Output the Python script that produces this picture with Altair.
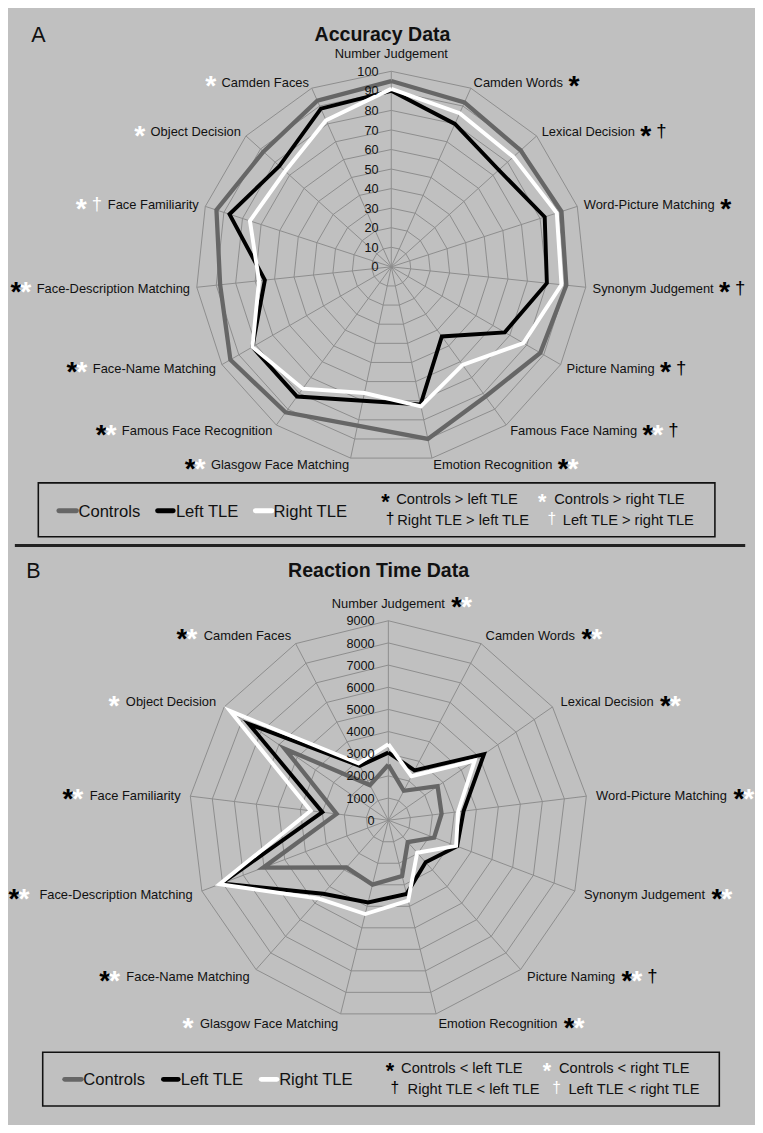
import math
import altair as alt
import pandas as pd

# ---------------- data ----------------
acc_axes = ["Number Judgement", "Camden Words", "Lexical Decision", "Word-Picture Matching",
            "Synonym Judgement", "Picture Naming", "Famous Face Naming", "Emotion Recognition",
            "Glasgow Face Matching", "Famous Face Recognition", "Face-Name Matching",
            "Face-Description Matching", "Face Familiarity", "Object Decision", "Camden Faces"]
acc_controls = [95, 92, 89, 91.5, 90, 88, 82, 90, 83, 92, 95, 88, 94, 88, 93]
acc_left = [90, 80, 74, 82.5, 80, 67, 44, 72, 70, 82, 82, 65, 87, 77, 88.5]
acc_right = [91, 86, 84, 89, 87.5, 78, 62, 73, 66, 77, 82, 68, 76, 73, 82]
acc_marks = ["", "k*", "k* k†", "k*", "k* k†", "k* k†", "k*w* k†", "k*w*", "k*w*", "k*w*",
             "k*w*", "k*w*", "w* w†", "w*", "w*"]
acc_ticks = [0, 10, 20, 30, 40, 50, 60, 70, 80, 90, 100]

rt_axes = ["Number Judgement", "Camden Words", "Lexical Decision", "Word-Picture Matching",
           "Synonym Judgement", "Picture Naming", "Emotion Recognition", "Glasgow Face Matching",
           "Face-Name Matching", "Face-Description  Matching", "Face Familiarity",
           "Object Decision", "Camden Faces"]
rt_controls = [2500, 1500, 2700, 2420, 2210, 1320, 2590, 2990, 2850, 6040, 2350, 5680, 1790]
rt_left = [3050, 2545, 5245, 3420, 3320, 2540, 3430, 3820, 4435, 8050, 3000, 7635, 2770]
rt_right = [3430, 2240, 4735, 3170, 3270, 1960, 3740, 4360, 4725, 8150, 3530, 8675, 2900]
rt_marks = ["k*w*", "k*w*", "k*w*", "k*w*", "k*w*", "k*w* k†", "k*w*", "w*", "k*w*", "k*w*",
            "k*w*", "w*", "k*w*"]
rt_ticks = [0, 1000, 2000, 3000, 4000, 5000, 6000, 7000, 8000, 9000]

series_names = ["Controls", "Left TLE", "Right TLE"]
acc_legend_sig = [["Controls > left TLE", "Controls > right TLE"],
                  ["Right TLE > left TLE", "Left TLE > right TLE"]]
rt_legend_sig = [["Controls < left TLE", "Controls < right TLE"],
                 ["Right TLE < left TLE", "Left TLE < right TLE"]]

# ---------------- style ----------------
FONT = "Liberation Sans"
INK = "#111111"
BG = "#c0c0c0"
GRID = "#8c8c8c"
SER_COL = ["#666666", "#000000", "#ffffff"]
SER_W = [4.4, 4.0, 4.0]
W = 747
ONE = pd.DataFrame({"a": [0]})
MARKCOL = {"k": "#000000", "w": "#ffffff"}
STAR_SIZE = 29
STAR_FAC = 0.47
DAG_SIZE = 19
DAG_FAC = 0.30

AW = {" ": 278, "-": 333, "<": 584, ">": 584,
      "A": 667, "B": 667, "C": 722, "D": 722, "E": 667, "F": 611, "G": 778, "H": 722, "I": 278,
      "J": 500, "K": 667, "L": 556, "M": 833, "N": 722, "O": 778, "P": 667, "Q": 778, "R": 722,
      "S": 667, "T": 611, "U": 722, "V": 667, "W": 944, "X": 667, "Y": 667, "Z": 611,
      "a": 556, "b": 556, "c": 500, "d": 556, "e": 556, "f": 278, "g": 556, "h": 556, "i": 222,
      "j": 222, "k": 500, "l": 222, "m": 833, "n": 556, "o": 556, "p": 556, "q": 556, "r": 333,
      "s": 500, "t": 278, "u": 556, "v": 500, "w": 722, "x": 500, "y": 500, "z": 500}


def tw(s, size):
    return sum(AW.get(c, 556) for c in s) * size / 1000.0


def parse_marks(s):
    s = s.replace(" ", "")
    return [(s[i], s[i + 1]) for i in range(0, len(s), 2)]


def stext(text, x, y, top, size, weight="normal", align="left", color=INK, kind="txt"):
    """static text; (x, y) = page position of the glyph centre line"""
    dy = {"txt": 0.36, "star": STAR_FAC, "dag": DAG_FAC}[kind] * size
    return alt.Chart(ONE).mark_text(
        text=text, font=FONT, fontSize=size, fontWeight=weight, align=align,
        baseline="alphabetic", dy=dy, color=color
    ).encode(x=alt.value(x - 8), y=alt.value(y - top))


def build_panel(cfg):
    axes = cfg["axes"]
    n = len(axes)
    cx, cy, k, top, H = cfg["cx"], cfg["cy"], cfg["k"], cfg["top"], cfg["H"]
    ticks = cfg["ticks"]
    rmax = ticks[-1]
    ang = [2 * math.pi * i / n for i in range(n)]
    xs = alt.Scale(domain=[(8 - cx) / k, (8 + W - cx) / k], nice=False, zero=False)
    ys = alt.Scale(domain=[(cy - top - H) / k, (cy - top) / k], nice=False, zero=False)

    def X(f):
        return alt.X(f, type="quantitative", scale=xs, axis=None)

    def Y(f):
        return alt.Y(f, type="quantitative", scale=ys, axis=None)

    layers = []
    # grid rings
    rows = []
    for t in ticks[1:]:
        for i in range(n + 1):
            a = ang[i % n]
            rows.append({"ring": t, "i": i, "x": t * math.sin(a), "y": t * math.cos(a)})
    layers.append(alt.Chart(pd.DataFrame(rows)).mark_line(color=GRID, strokeWidth=1).encode(
        x=X("x"), y=Y("y"), detail="ring:N", order="i:Q"))
    # spokes
    sp = pd.DataFrame({"x0": [0.0] * n, "y0": [0.0] * n,
                       "x1": [rmax * math.sin(a) for a in ang],
                       "y1": [rmax * math.cos(a) for a in ang]})
    layers.append(alt.Chart(sp).mark_rule(color=GRID, strokeWidth=1).encode(
        x=X("x0"), y=Y("y0"), x2=alt.X2("x1"), y2=alt.Y2("y1")))
    # series
    for s, vals, col, sw in zip(series_names, cfg["values"], SER_COL, SER_W):
        rows = []
        for i in range(n + 1):
            v = vals[i % n]
            a = ang[i % n]
            rows.append({"series": s, "i": i, "x": v * math.sin(a), "y": v * math.cos(a)})
        layers.append(alt.Chart(pd.DataFrame(rows)).mark_line(
            color=col, strokeWidth=sw, strokeJoin="miter", strokeMiterLimit=10).encode(
            x=X("x"), y=Y("y"), order="i:Q"))
    # tick labels
    tdf = pd.DataFrame({"v": ticks, "lab": [str(t) for t in ticks]})
    layers.append(alt.Chart(tdf).mark_text(
        align="right", baseline="alphabetic", dy=0.36 * 13, font=FONT, fontSize=13, color=INK).encode(
        x=alt.value(cx - 8 - cfg["tick_dx"]), y=Y("v"), text="lab:N"))
    # category labels + markers
    lab_rows = {"left": [], "right": [], "center": []}
    mk_rows = []
    LS = cfg["lab_size"]
    for i, name in enumerate(axes):
        a = ang[i]
        sa, ca = math.sin(a), math.cos(a)
        off = cfg["lab_off"]
        vx = cx + rmax * k * sa
        vy = cy - rmax * k * ca
        lx = vx + off * sa
        ly = vy - off * ca
        if abs(sa) < 0.05:
            align = "center"
            ly -= cfg["top_extra"] if ca > 0 else -cfg["top_extra"]
        elif sa > 0:
            align = "left"
        else:
            align = "right"
        lab_rows[align].append({"x": (lx - cx) / k, "y": (cy - ly) / k, "t": name})
        toks = parse_marks(cfg["marks"][i])
        if toks:
            w = tw(name, LS)
            gaps = []
            for j in range(1, len(toks)):
                gaps.append(10 if (toks[j][1] == "*" and toks[j - 1][1] == "*") else 16)
            if align == "right":
                start = lx - w
                pos = [start - cfg["mk_gap"]]
                for g in reversed(gaps):
                    pos.insert(0, pos[0] - g)
            else:
                end = lx + (w if align == "left" else w / 2)
                pos = [end + cfg["mk_gap"]]
                for g in gaps:
                    pos.append(pos[-1] + g)
            for (c, sym), px in zip(toks, pos):
                mk_rows.append({"x": (px - cx) / k, "y": (cy - ly) / k, "c": c, "s": sym})
    for al, rows in lab_rows.items():
        if rows:
            layers.append(alt.Chart(pd.DataFrame(rows)).mark_text(
                align=al, baseline="alphabetic", dy=0.36 * LS, font=FONT, fontSize=LS, color=INK).encode(
                x=X("x"), y=Y("y"), text="t:N"))
    mk = pd.DataFrame(mk_rows)
    for c in ["k", "w"]:
        for sym, size, weight, fac in [("*", STAR_SIZE, "bold", STAR_FAC), ("†", DAG_SIZE, "normal", DAG_FAC)]:
            sub = mk[(mk["c"] == c) & (mk["s"] == sym)]
            if len(sub):
                layers.append(alt.Chart(sub).mark_text(
                    text=sym, align="center", baseline="alphabetic", dy=fac * size, font=FONT,
                    fontSize=size, fontWeight=weight, color=MARKCOL[c]).encode(
                    x=X("x"), y=Y("y")))
    # title and panel letter
    layers.append(stext(cfg["title"], cfg["title_x"], cfg["title_y"], top, 20, weight="bold", align="center"))
    layers.append(stext(cfg["letter"], cfg["letter_x"], cfg["title_y"], top, 22, align="center"))
    # legend box
    bx0, by0, bx1, by1 = cfg["box"]
    layers.append(alt.Chart(ONE).mark_rect(fillOpacity=0, stroke=INK, strokeWidth=1.6).encode(
        x=alt.value(bx0 - 8), x2=alt.value(bx1 - 8), y=alt.value(by0 - top), y2=alt.value(by1 - top)))
    for (sx0, sx1), col, name, txx in zip(cfg["sw"], SER_COL, series_names, cfg["sw_tx"]):
        layers.append(alt.Chart(ONE).mark_rule(color=col, strokeWidth=5, strokeCap="round").encode(
            x=alt.value(sx0 - 8 + 2), x2=alt.value(sx1 - 8 - 2), y=alt.value(cfg["sw_y"] - top)))
        layers.append(stext(name, txx, cfg["sw_y"], top, 17))
    for (ly, items), texts in zip(cfg["sig"], cfg["sig_text"]):
        for (mx, tok, txx), t in zip(items, texts):
            c, sym = tok[0], tok[1]
            if sym == "*":
                layers.append(stext("*", mx, ly, top, 22, weight="bold", align="center",
                                    color=MARKCOL[c], kind="star"))
            else:
                layers.append(stext("†", mx, ly, top, 16, align="center",
                                    color=MARKCOL[c], kind="dag"))
            layers.append(stext(t, txx, ly, top, 15))
    if cfg.get("divider"):
        layers.append(alt.Chart(ONE).mark_rule(color="#222222", strokeWidth=3).encode(
            x=alt.value(0), x2=alt.value(W), y=alt.value(cfg["divider"] - top)))
    return alt.layer(*layers).properties(width=W, height=H)


cfg_a = dict(axes=acc_axes, values=[acc_controls, acc_left, acc_right], ticks=acc_ticks,
             marks=acc_marks, cx=393, cy=260, k=2.0, top=8, H=538, tick_dx=13,
             lab_off=7, lab_size=13.2, mk_gap=11, top_extra=11,
             title="Accuracy Data", title_x=384, title_y=22, letter="A", letter_x=32,
             box=(32, 481, 724, 536), sw=[(51, 73), (152, 172), (252, 273)],
             sw_tx=[73, 172.7, 272.5], sw_y=509.5,
             sig=[(497, [(387, "k*", 398), (547.4, "w*", 559.6)]),
                  (518.5, [(391.7, "k†", 399), (557.2, "w†", 568.4)])],
             sig_text=acc_legend_sig, divider=545)

cfg_b = dict(axes=rt_axes, values=[rt_controls, rt_left, rt_right], ticks=rt_ticks,
             marks=rt_marks, cx=390, cy=826, k=204.0 / 9000.0, top=546, H=579, tick_dx=14,
             lab_off=10, lab_size=13.2, mk_gap=12, top_extra=8,
             title="Reaction Time Data", title_x=380, title_y=570, letter="B", letter_x=27,
             box=(36.5, 1063.3, 728.5, 1118.3), sw=[(57, 78), (158, 177), (258, 278)],
             sw_tx=[77.9, 177.6, 278.3], sw_y=1091,
             sig=[(1079, [(391.7, "k*", 403), (552.3, "w*", 564.5)]),
                  (1100.5, [(396.6, "k†", 409.7), (562, "w†", 574.2)])],
             sig_text=rt_legend_sig)

chart = alt.vconcat(build_panel(cfg_a), build_panel(cfg_b), spacing=0).properties(
    padding=0, background=BG, bounds="flush").configure_view(strokeWidth=0)

chart.save("out.html", embed_options={"renderer": "svg", "actions": False})
